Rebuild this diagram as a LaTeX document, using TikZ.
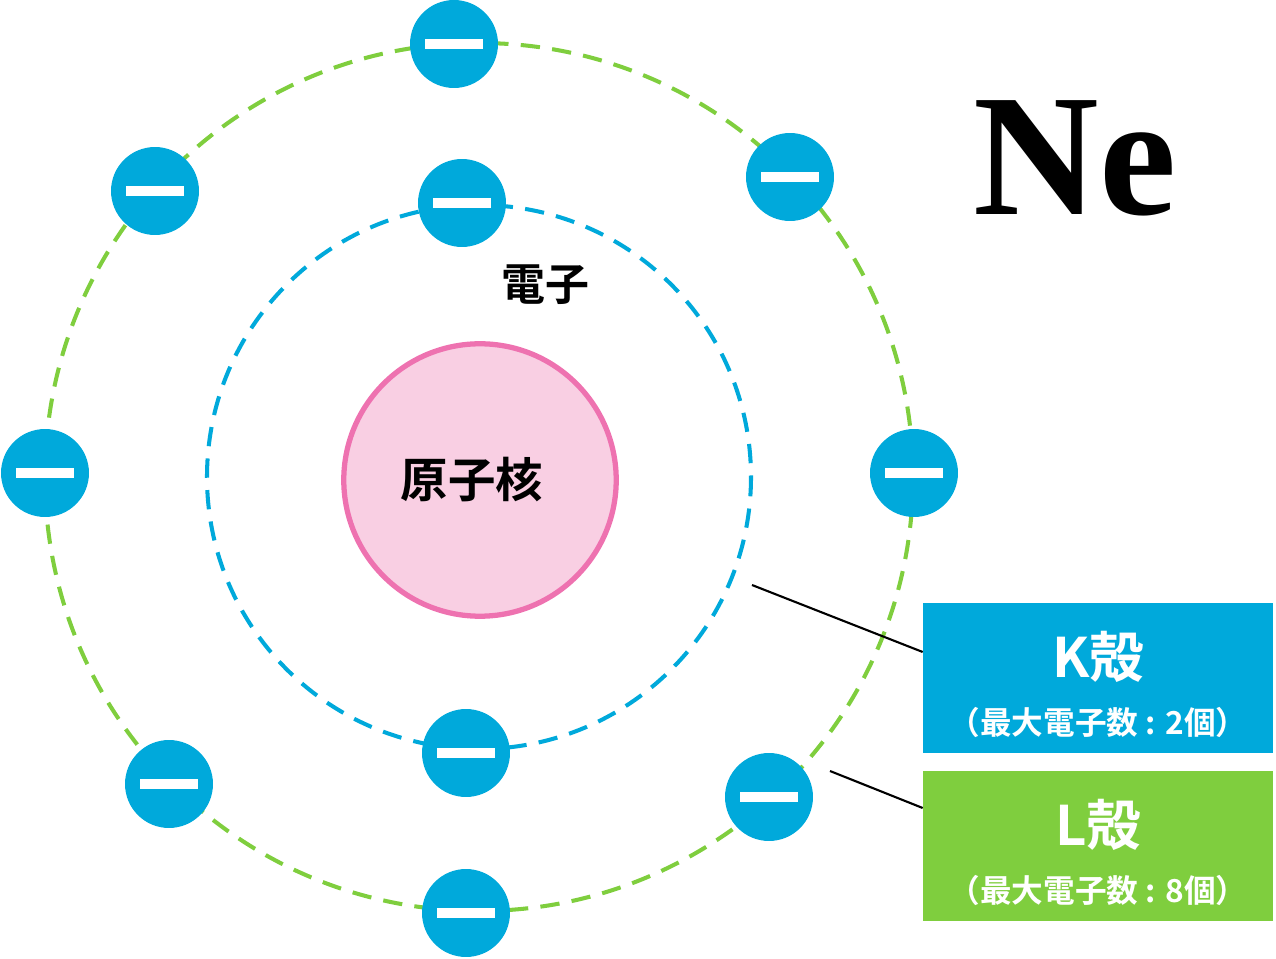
\documentclass[tikz,border=0pt]{standalone}
\usepackage{fontspec}
\newfontfamily\cjk{Noto Sans CJK JP}[BoldFont={* Bold}]
\newfontfamily\serifb{Liberation Serif}
\definecolor{cy}{HTML}{00A9DB}
\definecolor{gr}{HTML}{7FCE3E}
\definecolor{pkf}{HTML}{F9CFE3}
\definecolor{pks}{HTML}{EE72B0}
\begin{document}
\begin{tikzpicture}[x=0.02cm,y=-0.02cm,
  elec/.style={circle,fill=cy,minimum size=88\pgflinewidth*0+1.76cm,inner sep=0pt,
    path picture={\fill[white] ([xshift=-0.58cm,yshift=-0.1cm]path picture bounding box.center) rectangle ([xshift=0.58cm,yshift=0.1cm]path picture bounding box.center);}},
  orb/.style={line width=2.3pt,dash pattern=on 11pt off 7pt},
  lbl/.style={font=\cjk\bfseries}]
\useasboundingbox (0,0) rectangle (1276,959);
\coordinate (c) at (479,477);
\draw[orb,gr] (c) circle[radius=434];
\draw[orb,cy] (c) circle[radius=272];
\node[circle,fill=pkf,draw=pks,line width=3pt,minimum size=5.45cm] (nuc) at (480,480) {};
\node[lbl,font=\cjk\bfseries\fontsize{27}{30}\selectfont] at (472,480) {原子核};
\node[lbl,font=\cjk\bfseries\fontsize{25}{28}\selectfont] (e) at (545,285) {電子};
\foreach \p [count=\i] in {(454,44),(790,177),(914,473),(769,797),(466,913),(169,784),(45,473),(155,191),(462,203),(466,753)}
  \node[elec] (el\i) at \p {};
\node[font=\serifb\bfseries\fontsize{99}{100}\selectfont] (ne) at (1075,158) {Ne};
\node[fill=cy,minimum width=7cm,minimum height=3cm,inner sep=0pt] (kb) at (1098,678) {};
\node[fill=gr,minimum width=7cm,minimum height=3cm,inner sep=0pt] (lb) at (1098,846) {};
\node[text=white,font=\cjk\bfseries\fontsize{31}{34}\selectfont] at (1098,657) {K殻};
\node[text=white,font=\cjk\bfseries\fontsize{18}{20}\selectfont] at (1098,722) {（最大電子数 : 2個）};
\node[text=white,font=\cjk\bfseries\fontsize{31}{34}\selectfont] at (1098,825) {L殻};
\node[text=white,font=\cjk\bfseries\fontsize{18}{20}\selectfont] at (1098,890) {（最大電子数 : 8個）};
\coordinate (k1) at (752,585);
\coordinate (l1) at (830,771);
\draw[line width=1.2pt] (k1) -- (kb.west|-0,652);
\draw[line width=1.2pt] (l1) -- (lb.west|-0,808);
\end{tikzpicture}
\end{document}
